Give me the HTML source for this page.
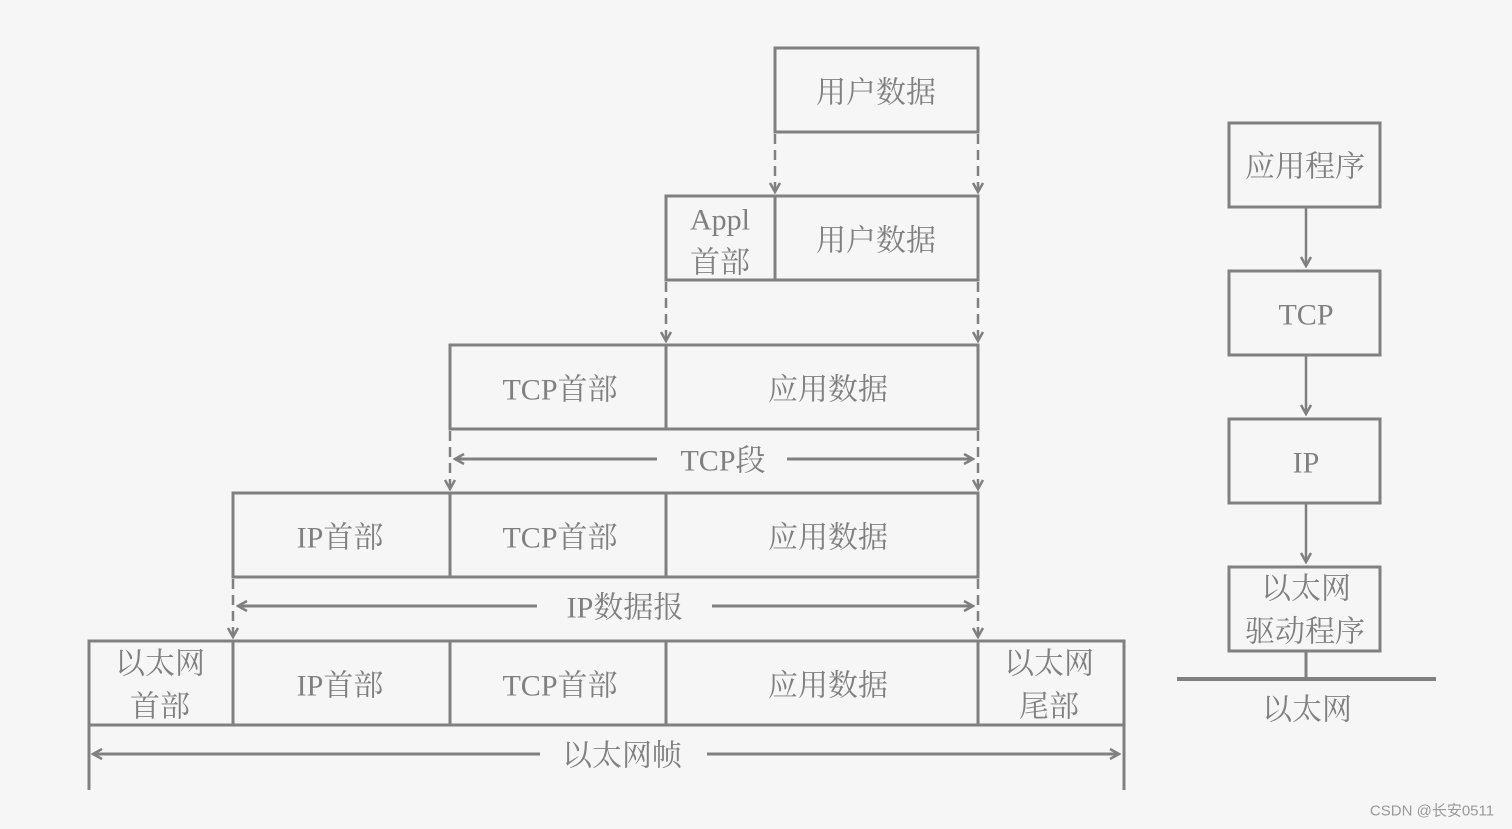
<!DOCTYPE html>
<html><head><meta charset="utf-8"><style>
html,body{margin:0;padding:0;background:#f6f6f6;}
svg{display:block}
text{font-family:"Liberation Serif","Noto Serif CJK SC",serif;font-size:30px;fill:#808080;text-anchor:middle;dominant-baseline:central}
</style></head><body>
<svg width="1512" height="829" viewBox="0 0 1512 829" xmlns="http://www.w3.org/2000/svg">
<rect width="1512" height="829" fill="#f6f6f6"/>
<defs>
<marker id="a" markerWidth="12" markerHeight="12" refX="10" refY="6" orient="auto" markerUnits="userSpaceOnUse">
<path d="M1,1 L10,6 L1,11" fill="none" stroke="#808080" stroke-width="2.5"/>
</marker>
</defs>
<g fill="none" stroke="#808080" stroke-width="3">
<rect x="775" y="48" width="203" height="84"/>
<rect x="666" y="196" width="312" height="84"/>
<line x1="775" y1="196" x2="775" y2="280"/>
<rect x="450" y="345" width="528" height="84"/>
<line x1="666" y1="345" x2="666" y2="429"/>
<rect x="233" y="493" width="745" height="84"/>
<line x1="450" y1="493" x2="450" y2="577"/>
<line x1="666" y1="493" x2="666" y2="577"/>
<rect x="89" y="641" width="1035" height="84"/>
<line x1="233" y1="641" x2="233" y2="725"/>
<line x1="450" y1="641" x2="450" y2="725"/>
<line x1="666" y1="641" x2="666" y2="725"/>
<line x1="978" y1="641" x2="978" y2="725"/>
<line x1="89" y1="725" x2="89" y2="790"/>
<line x1="1124" y1="725" x2="1124" y2="790"/>
</g>
<g fill="none" stroke="#808080" stroke-width="2.5" stroke-dasharray="10,6">
<line x1="775" y1="134" x2="775" y2="192" marker-end="url(#a)"/>
<line x1="978" y1="134" x2="978" y2="192" marker-end="url(#a)"/>
<line x1="666" y1="282" x2="666" y2="341" marker-end="url(#a)"/>
<line x1="978" y1="282" x2="978" y2="341" marker-end="url(#a)"/>
<line x1="450" y1="431" x2="450" y2="489" marker-end="url(#a)"/>
<line x1="978" y1="431" x2="978" y2="489" marker-end="url(#a)"/>
<line x1="233" y1="579" x2="233" y2="637" marker-end="url(#a)"/>
<line x1="978" y1="579" x2="978" y2="637" marker-end="url(#a)"/>
</g>
<g fill="none" stroke="#808080" stroke-width="3">
<line x1="657" y1="459" x2="455" y2="459" marker-end="url(#a)"/>
<line x1="787" y1="459" x2="973" y2="459" marker-end="url(#a)"/>
<line x1="537" y1="606" x2="238" y2="606" marker-end="url(#a)"/>
<line x1="712" y1="606" x2="973" y2="606" marker-end="url(#a)"/>
<line x1="540" y1="754" x2="93" y2="754" marker-end="url(#a)"/>
<line x1="707" y1="754" x2="1119" y2="754" marker-end="url(#a)"/>
<rect x="1229" y="123" width="151" height="84"/>
<rect x="1229" y="271" width="151" height="84"/>
<rect x="1229" y="419" width="151" height="84"/>
<rect x="1229" y="567" width="151" height="84"/>
<line x1="1306" y1="207" x2="1306" y2="266" marker-end="url(#a)" stroke-width="2.5"/>
<line x1="1306" y1="355" x2="1306" y2="414" marker-end="url(#a)" stroke-width="2.5"/>
<line x1="1306" y1="503" x2="1306" y2="562" marker-end="url(#a)" stroke-width="2.5"/>
<line x1="1306" y1="651" x2="1306" y2="679"/>
<line x1="1177" y1="679" x2="1436" y2="679" stroke-width="4"/>
</g>
<g transform="translate(0,2)">
<text x="876" y="91">用户数据</text>
<text x="720" y="218">Appl</text>
<text x="720" y="261">首部</text>
<text x="876" y="239">用户数据</text>
<text x="560" y="388">TCP首部</text>
<text x="828" y="388">应用数据</text>
<text x="723" y="459">TCP段</text>
<text x="340" y="536">IP首部</text>
<text x="560" y="536">TCP首部</text>
<text x="828" y="536">应用数据</text>
<text x="625" y="606">IP数据报</text>
<text x="160" y="662">以太网</text>
<text x="160" y="705">首部</text>
<text x="340" y="684">IP首部</text>
<text x="560" y="684">TCP首部</text>
<text x="828" y="684">应用数据</text>
<text x="1049" y="662">以太网</text>
<text x="1049" y="705">尾部</text>
<text x="622" y="754">以太网帧</text>
<text x="1305" y="165">应用程序</text>
<text x="1306" y="313">TCP</text>
<text x="1306" y="461">IP</text>
<text x="1306" y="587">以太网</text>
<text x="1305" y="630">驱动程序</text>
<text x="1307" y="708">以太网</text>
</g>
<text x="1432" y="811" style="font-family:'Liberation Sans','Noto Sans CJK SC',sans-serif;font-size:15px;fill:#999">CSDN @长安0511</text>
</svg>
</body></html>
